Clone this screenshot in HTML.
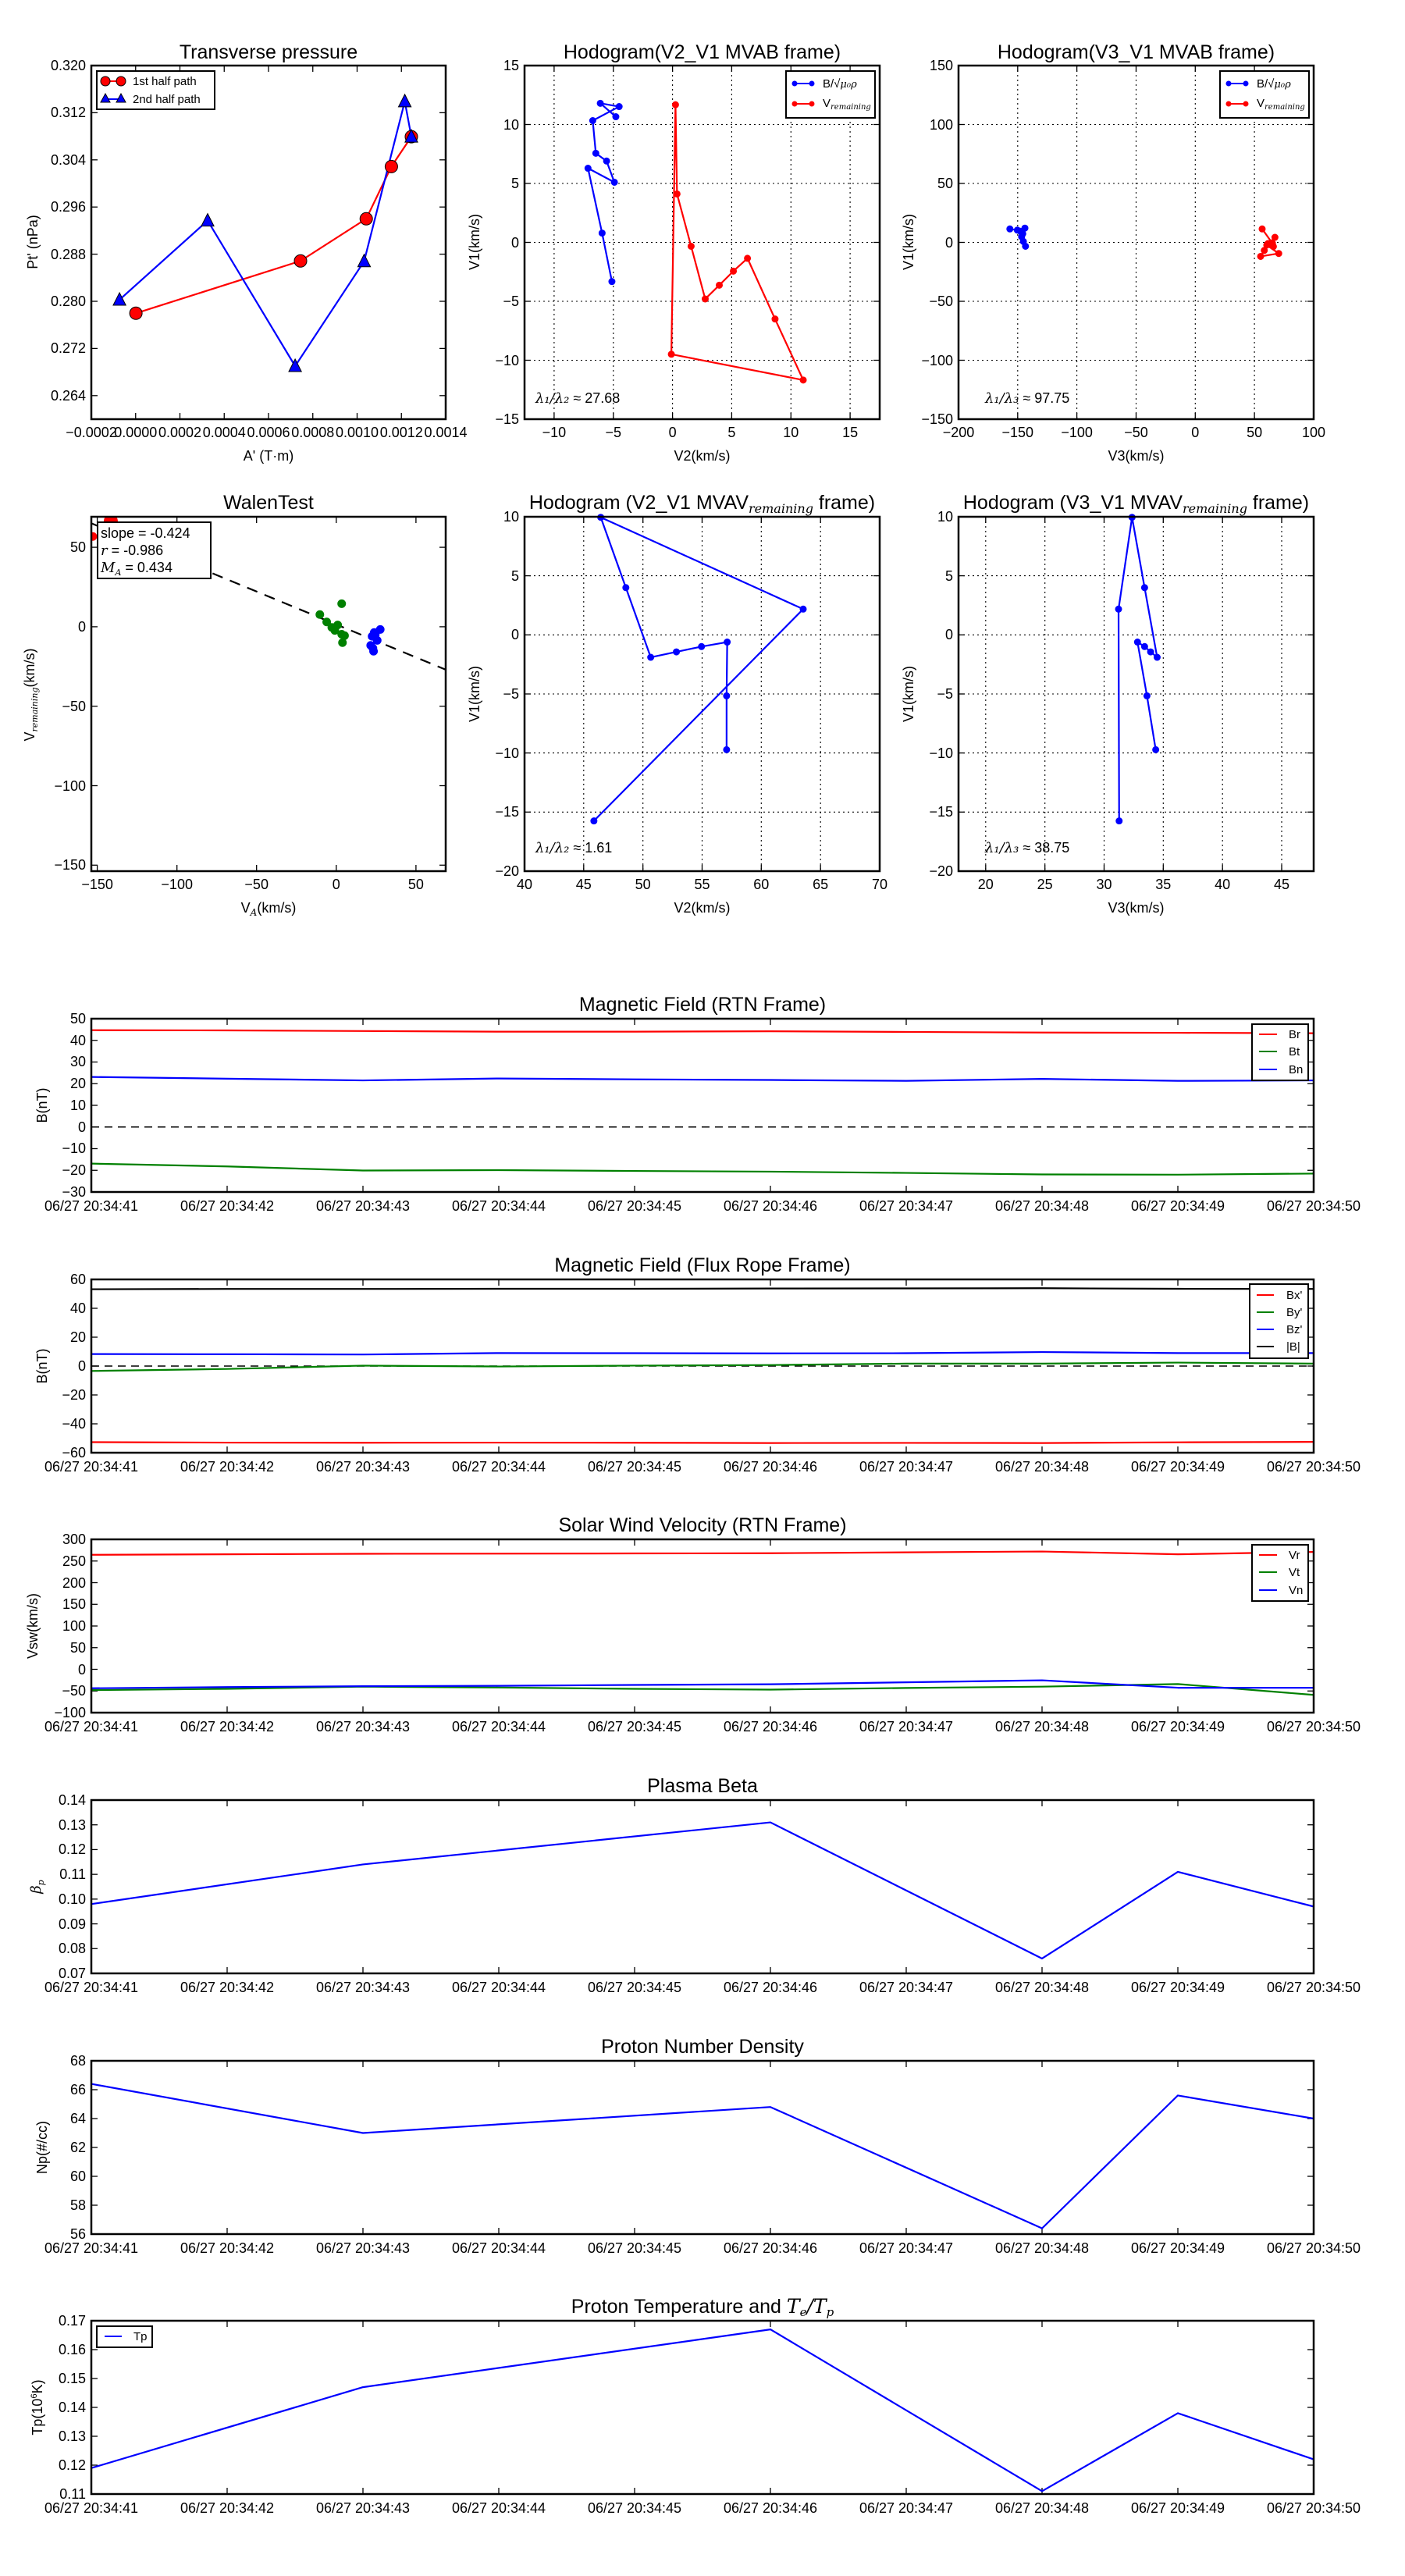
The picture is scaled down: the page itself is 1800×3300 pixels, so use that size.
<!DOCTYPE html>
<html><head><meta charset="utf-8"><style>
html,body{margin:0;padding:0;background:#fff}
svg{display:block}
text{font-family:"Liberation Sans","DejaVu Sans",sans-serif;fill:#000}
.t{font-size:25px;text-anchor:middle}
.yl{font-size:18px;text-anchor:end}
.xl{font-size:18px;text-anchor:middle}
.al{font-size:18px;text-anchor:middle}
.lg{font-size:15px}
.m{font-family:"DejaVu Serif","Liberation Serif",serif;font-style:italic}
.ln{fill:none;stroke-width:2.2;vector-effect:non-scaling-stroke;stroke-linejoin:round}
.dot{fill:none;stroke-linecap:round;vector-effect:non-scaling-stroke}
.ax{fill:none;stroke:#000;stroke-width:2.5}
.grid{stroke:#000;stroke-width:1.1;stroke-dasharray:2,4}
</style></head><body>
<svg id="s" width="1800" height="3300" viewBox="0 0 1800 3300" xmlns="http://www.w3.org/2000/svg">
<g id="ticks"></g>

<!-- ============ ROW 1 ============ -->
<!-- P1 -->
<text class="t" x="344" y="75">Transverse pressure</text>
<polyline fill="none" stroke="#ff0000" stroke-width="2.2" points="174.1,401.3 385,334.3 469.2,280.3 501.4,213.4 527,175.1"/>
<polyline fill="none" stroke="#0000ff" stroke-width="2.2" points="153.1,384 266,282.6 378.1,469 466.5,334.7 518.6,129.9 527,175.1"/>
<g fill="#ff0000" stroke="#000" stroke-width="1">
<circle cx="174.1" cy="401.3" r="8"/><circle cx="385" cy="334.3" r="8"/><circle cx="469.2" cy="280.3" r="8"/><circle cx="501.4" cy="213.4" r="8"/><circle cx="527" cy="175.1" r="8"/>
</g>
<g fill="#0000ff" stroke="#000" stroke-width="1">
<polygon points="153.1,375 145,391 161.2,391"/><polygon points="266,273.6 257.9,289.6 274.1,289.6"/><polygon points="378.1,460 370,476 386.2,476"/><polygon points="466.5,325.7 458.4,341.7 474.6,341.7"/><polygon points="518.6,120.9 510.5,136.9 526.7,136.9"/><polygon points="527,166.1 518.9,182.1 535.1,182.1"/>
</g>
<rect x="124" y="91" width="151" height="49" fill="#fff" stroke="#000" stroke-width="2"/>
<line x1="135" y1="104" x2="155" y2="104" stroke="#ff0000" stroke-width="2"/>
<circle cx="135" cy="104" r="6" fill="#ff0000" stroke="#000"/><circle cx="155" cy="104" r="6" fill="#ff0000" stroke="#000"/>
<line x1="135" y1="127" x2="155" y2="127" stroke="#0000ff" stroke-width="2"/>
<polygon points="135,120 129,131 141,131" fill="#0000ff" stroke="#000"/><polygon points="155,120 149,131 161,131" fill="#0000ff" stroke="#000"/>
<text class="lg" x="170" y="109">1st half path</text>
<text class="lg" x="170" y="132">2nd half path</text>
<rect class="ax" x="117" y="84" width="454" height="453"/>
<g>
<text class="yl" x="110" y="90">0.320</text><text class="yl" x="110" y="150">0.312</text><text class="yl" x="110" y="211">0.304</text><text class="yl" x="110" y="271">0.296</text><text class="yl" x="110" y="332">0.288</text><text class="yl" x="110" y="392">0.280</text><text class="yl" x="110" y="452">0.272</text><text class="yl" x="110" y="513">0.264</text>
<text class="xl" x="117" y="560">−0.0002</text><text class="xl" x="173.75" y="560">0.0000</text><text class="xl" x="230.5" y="560">0.0002</text><text class="xl" x="287.25" y="560">0.0004</text><text class="xl" x="344" y="560">0.0006</text><text class="xl" x="400.75" y="560">0.0008</text><text class="xl" x="457.5" y="560">0.0010</text><text class="xl" x="514.25" y="560">0.0012</text><text class="xl" x="571" y="560">0.0014</text>
<text class="al" x="344" y="590">A' (T·m)</text>
<text class="al" transform="translate(48,310) rotate(-90)">Pt' (nPa)</text>
</g>

<!-- P2 -->
<text class="t" x="899.5" y="75">Hodogram(V2_V1 MVAB frame)</text>
<g id="g2"></g>
<g transform="translate(861.6,310.5) scale(15.167,-15.1)">
<polyline class="ln" stroke="#0000ff" points="-5.12,-3.32 -5.95,0.79 -7.14,6.29 -4.91,5.10 -5.57,6.90 -6.48,7.56 -6.74,10.33 -4.51,11.52 -6.10,11.80 -4.79,10.66"/>
<path class="dot" stroke="#0000ff" stroke-width="9" d="M-5.12,-3.32h0M-5.95,0.79h0M-7.14,6.29h0M-4.91,5.10h0M-5.57,6.90h0M-6.48,7.56h0M-6.74,10.33h0M-4.51,11.52h0M-6.10,11.80h0M-4.79,10.66h0"/>
<polyline class="ln" stroke="#ff0000" points="0.25,11.68 -0.10,-9.49 11.04,-11.68 8.66,-6.50 6.33,-1.35 5.14,-2.44 3.95,-3.63 2.76,-4.80 1.57,-0.33 0.38,4.11 0.25,11.68"/>
<path class="dot" stroke="#ff0000" stroke-width="9" d="M0.25,11.68h0M-0.10,-9.49h0M11.04,-11.68h0M8.66,-6.50h0M6.33,-1.35h0M5.14,-2.44h0M3.95,-3.63h0M2.76,-4.80h0M1.57,-0.33h0M0.38,4.11h0"/>
</g>
<rect x="1007" y="91" width="114" height="60" fill="#fff" stroke="#000" stroke-width="2"/>
<line x1="1018" y1="107" x2="1040" y2="107" stroke="#0000ff" stroke-width="2"/><circle cx="1018" cy="107" r="3.5" fill="#00f"/><circle cx="1040" cy="107" r="3.5" fill="#00f"/>
<line x1="1018" y1="133" x2="1040" y2="133" stroke="#ff0000" stroke-width="2"/><circle cx="1018" cy="133" r="3.5" fill="#f00"/><circle cx="1040" cy="133" r="3.5" fill="#f00"/>
<text class="lg" x="1054" y="112">B/√<tspan class="m" font-size="13">μ₀ρ</tspan></text>
<text class="lg" x="1054" y="137">V<tspan class="m" font-size="10" dy="3">remaining</tspan></text>
<text x="686" y="516" font-size="18"><tspan class="m">λ₁/λ₂</tspan> ≈ 27.68</text>
<rect class="ax" x="672" y="84" width="455" height="453"/>
<text class="yl" x="665" y="90">15</text><text class="yl" x="665" y="166">10</text><text class="yl" x="665" y="241">5</text><text class="yl" x="665" y="317">0</text><text class="yl" x="665" y="392">−5</text><text class="yl" x="665" y="468">−10</text><text class="yl" x="665" y="543">−15</text>
<text class="xl" x="709.9" y="560">−10</text><text class="xl" x="785.8" y="560">−5</text><text class="xl" x="861.6" y="560">0</text><text class="xl" x="937.4" y="560">5</text><text class="xl" x="1013.3" y="560">10</text><text class="xl" x="1089.1" y="560">15</text>
<text class="al" x="899.5" y="590">V2(km/s)</text>
<text class="al" transform="translate(614,310) rotate(-90)">V1(km/s)</text>

<!-- P3 -->
<text class="t" x="1455.5" y="75">Hodogram(V3_V1 MVAB frame)</text>
<g transform="translate(1531.3,310.5) scale(1.5167,-1.51)">
<polyline class="ln" stroke="#0000ff" points="-156.6,11.4 -150.3,10.4 -143.9,12.1 -147.7,9.4 -146.7,4.8 -145.7,7.3 -145.2,0.8 -143.4,-3.3"/>
<path class="dot" stroke="#0000ff" stroke-width="9" d="M-156.6,11.4h0M-150.3,10.4h0M-143.9,12.1h0M-147.7,9.4h0M-146.7,4.8h0M-145.7,7.3h0M-145.2,0.8h0M-143.4,-3.3h0"/>
<polyline class="ln" stroke="#ff0000" points="56.5,11.4 65.2,-0.8 67.3,4.3 60.4,-2.3 70.5,-9.4 55.2,-11.9 58.3,-6.8 61.4,-1 66,-3.5"/>
<path class="dot" stroke="#ff0000" stroke-width="9" d="M56.5,11.4h0M65.2,-0.8h0M67.3,4.3h0M60.4,-2.3h0M70.5,-9.4h0M55.2,-11.9h0M58.3,-6.8h0M61.4,-1h0M66,-3.5h0"/>
</g>
<rect x="1563" y="91" width="114" height="60" fill="#fff" stroke="#000" stroke-width="2"/>
<line x1="1574" y1="107" x2="1596" y2="107" stroke="#0000ff" stroke-width="2"/><circle cx="1574" cy="107" r="3.5" fill="#00f"/><circle cx="1596" cy="107" r="3.5" fill="#00f"/>
<line x1="1574" y1="133" x2="1596" y2="133" stroke="#ff0000" stroke-width="2"/><circle cx="1574" cy="133" r="3.5" fill="#f00"/><circle cx="1596" cy="133" r="3.5" fill="#f00"/>
<text class="lg" x="1610" y="112">B/√<tspan class="m" font-size="13">μ₀ρ</tspan></text>
<text class="lg" x="1610" y="137">V<tspan class="m" font-size="10" dy="3">remaining</tspan></text>
<text x="1262" y="516" font-size="18"><tspan class="m">λ₁/λ₃</tspan> ≈ 97.75</text>
<rect class="ax" x="1228" y="84" width="455" height="453"/>
<text class="yl" x="1221" y="90">150</text><text class="yl" x="1221" y="166">100</text><text class="yl" x="1221" y="241">50</text><text class="yl" x="1221" y="317">0</text><text class="yl" x="1221" y="392">−50</text><text class="yl" x="1221" y="468">−100</text><text class="yl" x="1221" y="543">−150</text>
<text class="xl" x="1228" y="560">−200</text><text class="xl" x="1303.8" y="560">−150</text><text class="xl" x="1379.6" y="560">−100</text><text class="xl" x="1455.5" y="560">−50</text><text class="xl" x="1531.3" y="560">0</text><text class="xl" x="1607.1" y="560">50</text><text class="xl" x="1683" y="560">100</text>
<text class="al" x="1455.5" y="590">V3(km/s)</text>
<text class="al" transform="translate(1170,310) rotate(-90)">V1(km/s)</text>

<!-- ============ ROW 2 ============ -->
<!-- Walen -->
<text class="t" x="344" y="652">WalenTest</text>
<svg x="117" y="662" width="454" height="454" overflow="hidden">
<g transform="translate(313.8,140.9) scale(2.0414,-2.036)">
<line x1="-153.7" y1="65.1" x2="68.7" y2="-27" stroke="#000" stroke-width="2.2" stroke-dasharray="14,10" vector-effect="non-scaling-stroke"/>
<path class="dot" stroke="#008000" stroke-width="11" d="M-10.3,7.7h0M-6,3h0M3.4,14.5h0M-2.8,-0.4h0M-0.9,-2.3h0M0.9,1.1h0M3.4,-4.7h0M5.2,-5.6h0M3.9,-10h0M-1.5,-1h0"/>
<path class="dot" stroke="#0000ff" stroke-width="11" d="M27.6,-1.7h0M23.8,-3.6h0M22.5,-6h0M25.7,-8.6h0M21.6,-11.7h0M23.4,-15.4h0M23,-13.5h0M24.5,-5h0"/>
<path class="dot" stroke="#ff0000" stroke-width="11" d="M-152.8,56.8h0"/>
<path class="dot" stroke="#ff0000" stroke-width="18" d="M-141.5,66.4h0"/>
</g>
</svg>
<rect x="125" y="669" width="145" height="72" fill="#fff" stroke="#000" stroke-width="2"/>
<text x="129" y="689" font-size="18">slope = -0.424</text>
<text x="129" y="711" font-size="18"><tspan class="m">r</tspan> = -0.986</text>
<text x="129" y="733" font-size="18"><tspan class="m">M<tspan font-size="11" dy="4">A</tspan></tspan><tspan dy="-4"> = 0.434</tspan></text>
<rect class="ax" x="117" y="662" width="454" height="454"/>
<text class="yl" x="110" y="707">50</text><text class="yl" x="110" y="809">0</text><text class="yl" x="110" y="911">−50</text><text class="yl" x="110" y="1013">−100</text><text class="yl" x="110" y="1114">−150</text>
<text class="xl" x="124.6" y="1139">−150</text><text class="xl" x="226.7" y="1139">−100</text><text class="xl" x="328.7" y="1139">−50</text><text class="xl" x="430.8" y="1139">0</text><text class="xl" x="532.9" y="1139">50</text>
<text class="al" x="344" y="1169">V<tspan class="m" font-size="12" dy="4">A</tspan><tspan dy="-4">(km/s)</tspan></text>
<text class="al" transform="translate(44,890) rotate(-90)">V<tspan class="m" font-size="11" dy="4">remaining</tspan><tspan dy="-4">(km/s)</tspan></text>

<!-- P5 -->
<text class="t" x="899.5" y="652">Hodogram (V2_V1 MVAV<tspan class="m" font-size="16" dy="5">remaining</tspan><tspan dy="-5"> frame)</tspan></text>
<g transform="translate(65.3,813.3) scale(15.167,-15.133)">
<polyline class="ln" stroke="#0000ff" points="45.86,-15.75 63.54,2.18 46.44,9.95 48.56,4.0 50.66,-1.9 52.83,-1.44 54.95,-0.99 57.12,-0.61 57.07,-5.16 57.07,-9.72"/>
<path class="dot" stroke="#0000ff" stroke-width="9" d="M45.86,-15.75h0M63.54,2.18h0M46.44,9.95h0M48.56,4.0h0M50.66,-1.9h0M52.83,-1.44h0M54.95,-0.99h0M57.12,-0.61h0M57.07,-5.16h0M57.07,-9.72h0"/>
</g>
<text x="686" y="1092" font-size="18"><tspan class="m">λ₁/λ₂</tspan> ≈ 1.61</text>
<rect class="ax" x="672" y="662" width="455" height="454"/>
<text class="yl" x="665" y="668">10</text><text class="yl" x="665" y="744">5</text><text class="yl" x="665" y="819">0</text><text class="yl" x="665" y="895">−5</text><text class="yl" x="665" y="971">−10</text><text class="yl" x="665" y="1046">−15</text><text class="yl" x="665" y="1122">−20</text>
<text class="xl" x="672" y="1139">40</text><text class="xl" x="747.8" y="1139">45</text><text class="xl" x="823.7" y="1139">50</text><text class="xl" x="899.5" y="1139">55</text><text class="xl" x="975.3" y="1139">60</text><text class="xl" x="1051.2" y="1139">65</text><text class="xl" x="1127" y="1139">70</text>
<text class="al" x="899.5" y="1169">V2(km/s)</text>
<text class="al" transform="translate(614,889) rotate(-90)">V1(km/s)</text>

<!-- P6 -->
<text class="t" x="1455.5" y="652">Hodogram (V3_V1 MVAV<tspan class="m" font-size="16" dy="5">remaining</tspan><tspan dy="-5"> frame)</tspan></text>
<g transform="translate(959.5,813.3) scale(15.167,-15.133)">
<polyline class="ln" stroke="#0000ff" points="31.27,-15.75 31.22,2.18 32.36,9.95 33.42,4.0 34.48,-1.9 33.93,-1.44 33.42,-0.99 32.82,-0.61 33.62,-5.16 34.36,-9.72"/>
<path class="dot" stroke="#0000ff" stroke-width="9" d="M31.27,-15.75h0M31.22,2.18h0M32.36,9.95h0M33.42,4.0h0M34.48,-1.9h0M33.93,-1.44h0M33.42,-0.99h0M32.82,-0.61h0M33.62,-5.16h0M34.36,-9.72h0"/>
</g>
<text x="1262" y="1092" font-size="18"><tspan class="m">λ₁/λ₃</tspan> ≈ 38.75</text>
<rect class="ax" x="1228" y="662" width="455" height="454"/>
<text class="yl" x="1221" y="668">10</text><text class="yl" x="1221" y="744">5</text><text class="yl" x="1221" y="819">0</text><text class="yl" x="1221" y="895">−5</text><text class="yl" x="1221" y="971">−10</text><text class="yl" x="1221" y="1046">−15</text><text class="yl" x="1221" y="1122">−20</text>
<text class="xl" x="1262.8" y="1139">20</text><text class="xl" x="1338.7" y="1139">25</text><text class="xl" x="1414.5" y="1139">30</text><text class="xl" x="1490.3" y="1139">35</text><text class="xl" x="1566.2" y="1139">40</text><text class="xl" x="1642" y="1139">45</text>
<text class="al" x="1455.5" y="1169">V3(km/s)</text>
<text class="al" transform="translate(1170,889) rotate(-90)">V1(km/s)</text>

<!-- ============ TIME SERIES ============ -->
<!-- TS1 -->
<text class="t" x="900" y="1295">Magnetic Field (RTN Frame)</text>
<line x1="117" y1="1443.75" x2="1683" y2="1443.75" stroke="#000" stroke-width="1.5" stroke-dasharray="10,7"/>
<g transform="translate(117,1443.75) scale(174,-2.775)">
<polyline class="ln" stroke="#ff0000" points="0,44.7 1,44.6 2,44.3 3,44 4,44 5,44.2 6,43.9 7,43.6 8,43.5 9,43.3"/>
<polyline class="ln" stroke="#008000" points="0,-16.9 1,-18.2 2,-20.1 3,-19.9 4,-20.3 5,-20.6 6,-21.2 7,-21.9 8,-22 9,-21.5"/>
<polyline class="ln" stroke="#0000ff" points="0,23.1 1,22.3 2,21.5 3,22.4 4,22 5,21.7 6,21.3 7,22.2 8,21.3 9,21.5"/>
</g>
<rect x="1604" y="1312" width="72" height="72" fill="#fff" stroke="#000" stroke-width="2"/>
<line x1="1613" y1="1325" x2="1636" y2="1325" stroke="#f00" stroke-width="2"/><text class="lg" x="1651" y="1330">Br</text>
<line x1="1613" y1="1347" x2="1636" y2="1347" stroke="#008000" stroke-width="2"/><text class="lg" x="1651" y="1352">Bt</text>
<line x1="1613" y1="1370" x2="1636" y2="1370" stroke="#00f" stroke-width="2"/><text class="lg" x="1651" y="1375">Bn</text>
<rect class="ax" x="117" y="1305" width="1566" height="222"/>
<text class="yl" x="110" y="1311">50</text><text class="yl" x="110" y="1339">40</text><text class="yl" x="110" y="1366">30</text><text class="yl" x="110" y="1394">20</text><text class="yl" x="110" y="1422">10</text><text class="yl" x="110" y="1450">0</text><text class="yl" x="110" y="1477">−10</text><text class="yl" x="110" y="1505">−20</text><text class="yl" x="110" y="1533">−30</text>
<text class="al" transform="translate(60,1416) rotate(-90)">B(nT)</text>
<g class="xl"><text x="117" y="1551">06/27 20:34:41</text><text x="291" y="1551">06/27 20:34:42</text><text x="465" y="1551">06/27 20:34:43</text><text x="639" y="1551">06/27 20:34:44</text><text x="813" y="1551">06/27 20:34:45</text><text x="987" y="1551">06/27 20:34:46</text><text x="1161" y="1551">06/27 20:34:47</text><text x="1335" y="1551">06/27 20:34:48</text><text x="1509" y="1551">06/27 20:34:49</text><text x="1683" y="1551">06/27 20:34:50</text></g>

<!-- TS2 -->
<text class="t" x="900" y="1629">Magnetic Field (Flux Rope Frame)</text>
<line x1="117" y1="1750" x2="1683" y2="1750" stroke="#000" stroke-width="1.5" stroke-dasharray="10,7"/>
<g transform="translate(117,1750) scale(174,-1.85)">
<polyline class="ln" stroke="#ff0000" points="0,-52.7 1,-53 2,-53.1 3,-53 4,-53.1 5,-53.3 6,-53.2 7,-53.3 8,-52.8 9,-52.5"/>
<polyline class="ln" stroke="#008000" points="0,-3.4 1,-2 2,0.3 3,-0.3 4,0.3 5,0.7 6,1.7 7,1.7 8,2.4 9,1.7"/>
<polyline class="ln" stroke="#0000ff" points="0,8.3 1,8.2 2,8 3,9 4,8.9 5,8.8 6,8.9 7,9.7 8,9 9,9"/>
<polyline class="ln" stroke="#000000" points="0,53.2 1,53.4 2,53.4 3,53.5 4,53.5 5,53.7 6,53.8 7,53.9 8,53.5 9,53.4"/>
</g>
<rect x="1601" y="1645" width="75" height="95" fill="#fff" stroke="#000" stroke-width="2"/>
<line x1="1610" y1="1659" x2="1632" y2="1659" stroke="#f00" stroke-width="2"/><text class="lg" x="1648" y="1664">Bx'</text>
<line x1="1610" y1="1681" x2="1632" y2="1681" stroke="#008000" stroke-width="2"/><text class="lg" x="1648" y="1686">By'</text>
<line x1="1610" y1="1703" x2="1632" y2="1703" stroke="#00f" stroke-width="2"/><text class="lg" x="1648" y="1708">Bz'</text>
<line x1="1610" y1="1725" x2="1632" y2="1725" stroke="#000" stroke-width="2"/><text class="lg" x="1648" y="1730">|B|</text>
<rect class="ax" x="117" y="1639" width="1566" height="222"/>
<text class="yl" x="110" y="1645">60</text><text class="yl" x="110" y="1682">40</text><text class="yl" x="110" y="1719">20</text><text class="yl" x="110" y="1756">0</text><text class="yl" x="110" y="1793">−20</text><text class="yl" x="110" y="1830">−40</text><text class="yl" x="110" y="1867">−60</text>
<text class="al" transform="translate(60,1750) rotate(-90)">B(nT)</text>
<g class="xl"><text x="117" y="1885">06/27 20:34:41</text><text x="291" y="1885">06/27 20:34:42</text><text x="465" y="1885">06/27 20:34:43</text><text x="639" y="1885">06/27 20:34:44</text><text x="813" y="1885">06/27 20:34:45</text><text x="987" y="1885">06/27 20:34:46</text><text x="1161" y="1885">06/27 20:34:47</text><text x="1335" y="1885">06/27 20:34:48</text><text x="1509" y="1885">06/27 20:34:49</text><text x="1683" y="1885">06/27 20:34:50</text></g>

<!-- TS3 -->
<text class="t" x="900" y="1962">Solar Wind Velocity (RTN Frame)</text>
<g transform="translate(117,2138.5) scale(174,-0.555)">
<polyline class="ln" stroke="#ff0000" points="0,264.4 1,265.5 2,266.7 3,267 4,267.5 5,268 6,270 7,272 8,265.5 9,271"/>
<polyline class="ln" stroke="#008000" points="0,-48 1,-45 2,-40 3,-42 4,-45 5,-46.9 6,-43 7,-40 8,-34 9,-59"/>
<polyline class="ln" stroke="#0000ff" points="0,-43.7 1,-41 2,-39 3,-38 4,-36 5,-34.5 6,-30 7,-25.3 8,-42.5 9,-42.5"/>
</g>
<rect x="1604" y="1979" width="72" height="72" fill="#fff" stroke="#000" stroke-width="2"/>
<line x1="1613" y1="1992" x2="1636" y2="1992" stroke="#f00" stroke-width="2"/><text class="lg" x="1651" y="1997">Vr</text>
<line x1="1613" y1="2014" x2="1636" y2="2014" stroke="#008000" stroke-width="2"/><text class="lg" x="1651" y="2019">Vt</text>
<line x1="1613" y1="2037" x2="1636" y2="2037" stroke="#00f" stroke-width="2"/><text class="lg" x="1651" y="2042">Vn</text>
<rect class="ax" x="117" y="1972" width="1566" height="222"/>
<text class="yl" x="110" y="1978">300</text><text class="yl" x="110" y="2006">250</text><text class="yl" x="110" y="2034">200</text><text class="yl" x="110" y="2061">150</text><text class="yl" x="110" y="2089">100</text><text class="yl" x="110" y="2117">50</text><text class="yl" x="110" y="2145">0</text><text class="yl" x="110" y="2172">−50</text><text class="yl" x="110" y="2200">−100</text>
<text class="al" transform="translate(48,2083) rotate(-90)">Vsw(km/s)</text>
<g class="xl"><text x="117" y="2218">06/27 20:34:41</text><text x="291" y="2218">06/27 20:34:42</text><text x="465" y="2218">06/27 20:34:43</text><text x="639" y="2218">06/27 20:34:44</text><text x="813" y="2218">06/27 20:34:45</text><text x="987" y="2218">06/27 20:34:46</text><text x="1161" y="2218">06/27 20:34:47</text><text x="1335" y="2218">06/27 20:34:48</text><text x="1509" y="2218">06/27 20:34:49</text><text x="1683" y="2218">06/27 20:34:50</text></g>

<!-- TS4 -->
<text class="t" x="900" y="2296">Plasma Beta</text>
<g transform="translate(117,2750) scale(174,-3171.4)">
<polyline class="ln" stroke="#0000ff" points="0,0.098 2,0.114 5,0.131 7,0.076 8,0.111 9,0.097"/>
</g>
<rect class="ax" x="117" y="2306" width="1566" height="222"/>
<text class="yl" x="110" y="2312">0.14</text><text class="yl" x="110" y="2344">0.13</text><text class="yl" x="110" y="2375">0.12</text><text class="yl" x="110" y="2407">0.11</text><text class="yl" x="110" y="2439">0.10</text><text class="yl" x="110" y="2471">0.09</text><text class="yl" x="110" y="2502">0.08</text><text class="yl" x="110" y="2534">0.07</text>
<text class="al" transform="translate(52,2417) rotate(-90)"><tspan class="m">β</tspan><tspan class="m" font-size="11" dy="4">p</tspan></text>
<g class="xl"><text x="117" y="2552">06/27 20:34:41</text><text x="291" y="2552">06/27 20:34:42</text><text x="465" y="2552">06/27 20:34:43</text><text x="639" y="2552">06/27 20:34:44</text><text x="813" y="2552">06/27 20:34:45</text><text x="987" y="2552">06/27 20:34:46</text><text x="1161" y="2552">06/27 20:34:47</text><text x="1335" y="2552">06/27 20:34:48</text><text x="1509" y="2552">06/27 20:34:49</text><text x="1683" y="2552">06/27 20:34:50</text></g>

<!-- TS5 -->
<text class="t" x="900" y="2630">Proton Number Density</text>
<g transform="translate(117,3898) scale(174,-18.5)">
<polyline class="ln" stroke="#0000ff" points="0,66.4 2,63 5,64.8 7,56.4 8,65.6 9,64"/>
</g>
<rect class="ax" x="117" y="2640" width="1566" height="222"/>
<text class="yl" x="110" y="2646">68</text><text class="yl" x="110" y="2683">66</text><text class="yl" x="110" y="2720">64</text><text class="yl" x="110" y="2757">62</text><text class="yl" x="110" y="2794">60</text><text class="yl" x="110" y="2831">58</text><text class="yl" x="110" y="2868">56</text>
<text class="al" transform="translate(60,2751) rotate(-90)">Np(#/cc)</text>
<g class="xl"><text x="117" y="2886">06/27 20:34:41</text><text x="291" y="2886">06/27 20:34:42</text><text x="465" y="2886">06/27 20:34:43</text><text x="639" y="2886">06/27 20:34:44</text><text x="813" y="2886">06/27 20:34:45</text><text x="987" y="2886">06/27 20:34:46</text><text x="1161" y="2886">06/27 20:34:47</text><text x="1335" y="2886">06/27 20:34:48</text><text x="1509" y="2886">06/27 20:34:49</text><text x="1683" y="2886">06/27 20:34:50</text></g>

<!-- TS6 -->
<text class="t" x="900" y="2963">Proton Temperature and <tspan class="m">T</tspan><tspan class="m" font-size="15" dy="4">e</tspan><tspan dy="-4" class="m">/T</tspan><tspan class="m" font-size="15" dy="4">p</tspan></text>
<g transform="translate(117,3602) scale(174,-3700)">
<polyline class="ln" stroke="#0000ff" points="0,0.119 2,0.147 5,0.167 7,0.111 8,0.138 9,0.122"/>
</g>
<rect x="124" y="2980" width="71" height="27" fill="#fff" stroke="#000" stroke-width="2"/>
<line x1="134" y1="2993" x2="156" y2="2993" stroke="#00f" stroke-width="2"/><text class="lg" x="171" y="2998">Tp</text>
<rect class="ax" x="117" y="2973" width="1566" height="222"/>
<text class="yl" x="110" y="2979">0.17</text><text class="yl" x="110" y="3016">0.16</text><text class="yl" x="110" y="3053">0.15</text><text class="yl" x="110" y="3090">0.14</text><text class="yl" x="110" y="3127">0.13</text><text class="yl" x="110" y="3164">0.12</text><text class="yl" x="110" y="3201">0.11</text>
<text class="al" transform="translate(54,3084) rotate(-90)">Tp(10<tspan font-size="11" dy="-7">6</tspan><tspan dy="7">K)</tspan></text>
<g class="xl"><text x="117" y="3219">06/27 20:34:41</text><text x="291" y="3219">06/27 20:34:42</text><text x="465" y="3219">06/27 20:34:43</text><text x="639" y="3219">06/27 20:34:44</text><text x="813" y="3219">06/27 20:34:45</text><text x="987" y="3219">06/27 20:34:46</text><text x="1161" y="3219">06/27 20:34:47</text><text x="1335" y="3219">06/27 20:34:48</text><text x="1509" y="3219">06/27 20:34:49</text><text x="1683" y="3219">06/27 20:34:50</text></g>
</svg>
<script>
(function(){
var ns="http://www.w3.org/2000/svg",g=document.getElementById("ticks");
function L(x1,y1,x2,y2,c){var l=document.createElementNS(ns,"line");l.setAttribute("x1",x1);l.setAttribute("y1",y1);l.setAttribute("x2",x2);l.setAttribute("y2",y2);l.setAttribute("stroke","#000");l.setAttribute("stroke-width",1.3);if(c)l.setAttribute("class",c);g.appendChild(l);}
function ax(Lx,T,W,H,xs,ys,grid){
 xs.forEach(function(x){ if(grid&&x>Lx+1&&x<Lx+W-1)L(x,T,x,T+H,"grid"); L(x,T,x,T+8);L(x,T+H,x,T+H-8);});
 ys.forEach(function(y){ if(grid&&y>T+1&&y<T+H-1)L(Lx,y,Lx+W,y,"grid"); L(Lx,y,Lx+8,y);L(Lx+W,y,Lx+W-8,y);});
}
function r(a,b,s){var o=[];for(var v=a;v<=b+1e-9;v+=s)o.push(v);return o;}
ax(117,84,454,453,r(0,8,1).map(function(i){return 117+i*56.75}),[84,144.4,204.8,265.2,325.6,386,446.4,506.8],false);
ax(672,84,455,453,[709.9,785.8,861.6,937.4,1013.3,1089.1],[84,159.5,235,310.5,386,461.5,537],true);
ax(1228,84,455,453,[1228,1303.8,1379.6,1455.5,1531.3,1607.1,1683],[84,159.5,235,310.5,386,461.5,537],true);
ax(117,662,454,454,[124.6,226.7,328.7,430.8,532.9],[701.1,802.9,904.7,1006.5,1108.3],false);
var ry=[662,737.6,813.3,889,964.6,1040.3,1116];
ax(672,662,455,454,[672,747.8,823.7,899.5,975.3,1051.2,1127],ry,true);
ax(1228,662,455,454,[1262.8,1338.7,1414.5,1490.3,1566.2,1642],ry,true);
var tx=r(0,9,1).map(function(i){return 117+i*174});
var tops=[[1305,8],[1639,6],[1972,8],[2306,7],[2640,6],[2973,6]];
tops.forEach(function(t){var ys=[];for(var k=0;k<=t[1];k++)ys.push(t[0]+k*222/t[1]);ax(117,t[0],1566,222,tx,ys,false);});
})();
</script>
</body></html>
